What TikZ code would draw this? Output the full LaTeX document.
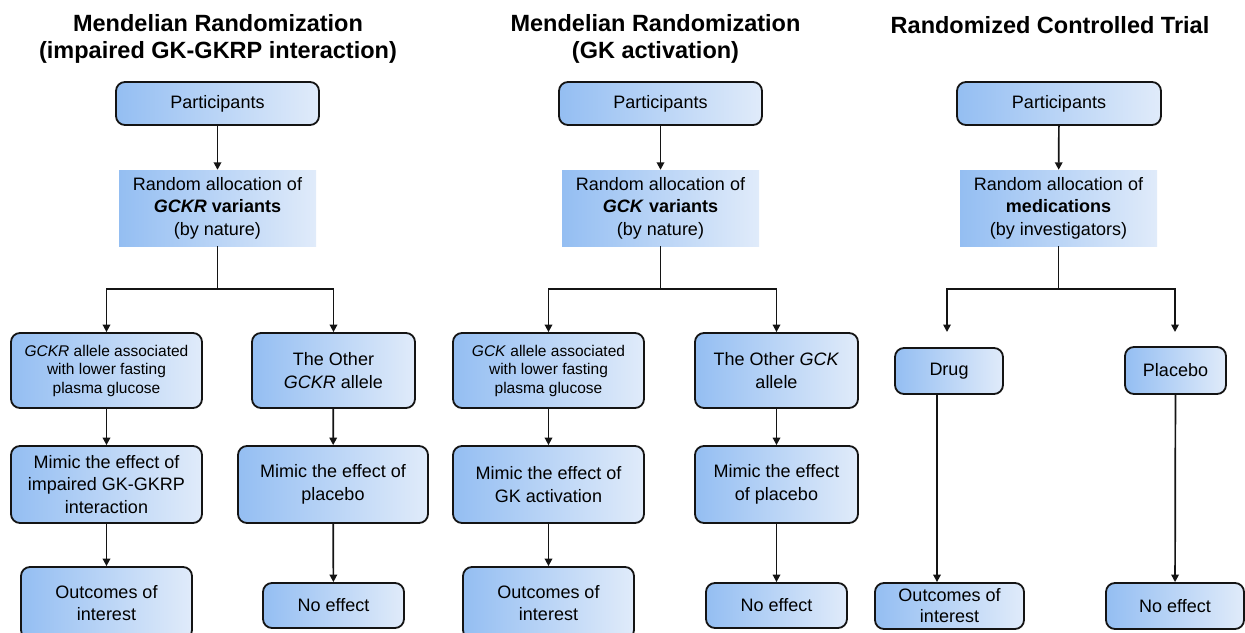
\documentclass[tikz,border=0pt]{standalone}
\usepackage{fontspec}
\setmainfont{Liberation Sans}
\usetikzlibrary{arrows.meta,calc}
\definecolor{gradL}{RGB}{148,190,242}
\definecolor{gradR}{RGB}{224,235,250}
\definecolor{lineC}{RGB}{20,20,20}
\begin{document}
\begin{tikzpicture}[x=1pt,y=-1pt,
  title/.style={align=center,font=\bfseries\fontsize{23.5}{27}\selectfont,inner sep=0pt},
  rbox/.style={draw=lineC,line width=1.8pt,rounded corners=9pt,left color=gradL,right color=gradR,
    align=center,inner sep=0pt,font=\fontsize{18}{22.5}\selectfont},
  sbox/.style={rbox,font=\fontsize{15.5}{18.5}\selectfont},
  abox/.style={draw=none,left color=gradL,right color=gradR,align=center,inner sep=0pt,
    font=\fontsize{18}{22.5}\selectfont},
  arr/.style={draw=lineC,line width=1.7pt,-{Triangle[length=7.5pt,width=7.5pt]}},
  ln/.style={draw=lineC,line width=1.7pt}]
\useasboundingbox (0,0) rectangle (1245,632);

% ---------- Column 1 ----------
\node[title] (T1) at (218,39) {Mendelian Randomization\\(impaired GK-GKRP interaction)};
\node[rbox,minimum width=203pt,minimum height=43pt] (P1) at (217.5,103.5) {Participants};
\node[abox,minimum width=197pt,minimum height=76pt] (R1) at (217.5,208) {Random allocation of\\\textbf{\textit{GCKR} variants}\\(by nature)};
\node[sbox,minimum width=191pt,minimum height=75pt] (A1) at (106.5,370.5) {\textit{GCKR} allele associated\\with lower fasting\\plasma glucose};
\node[rbox,minimum width=163pt,minimum height=75pt] (B1) at (333.5,370.5) {The Other\\\textit{GCKR} allele};
\node[rbox,minimum width=191pt,minimum height=77pt] (M1) at (106.5,484.5) {Mimic the effect of\\impaired GK-GKRP\\interaction};
\node[rbox,minimum width=190pt,minimum height=77pt] (N1) at (333,484.5) {Mimic the effect of\\placebo};
\node[rbox,minimum width=171pt,minimum height=72pt] (O1) at (106.5,603) {Outcomes of\\interest};
\node[rbox,minimum width=141pt,minimum height=45pt] (E1) at (333.5,605.5) {No effect};
\coordinate (s1) at (217.5,289);
\draw[arr] (P1) -- (R1);
\draw[ln] (R1.south) -- (s1);
\draw[arr] (s1) -| (A1.north);
\draw[arr] (s1) -| (B1.north);
\draw[arr] (A1) -- (M1);
\draw[arr] (M1) -- (O1);
\draw[arr] (B1) -- (N1);
\draw[arr] (N1) -- (E1);

% ---------- Column 2 ----------
\node[title] (T2) at (655.5,39) {Mendelian Randomization\\(GK activation)};
\node[rbox,minimum width=203pt,minimum height=43pt] (P2) at (660.5,103.5) {Participants};
\node[abox,minimum width=197pt,minimum height=76pt] (R2) at (660.5,208) {Random allocation of\\\textbf{\textit{GCK} variants}\\(by nature)};
\node[sbox,minimum width=191pt,minimum height=75pt] (A2) at (548.5,370.5) {\textit{GCK} allele associated\\with lower fasting\\plasma glucose};
\node[rbox,minimum width=163pt,minimum height=75pt] (B2) at (776.5,370.5) {The Other \textit{GCK}\\allele};
\node[rbox,minimum width=191pt,minimum height=77pt] (M2) at (548.5,484.5) {Mimic the effect of\\GK activation};
\node[rbox,minimum width=163pt,minimum height=77pt] (N2) at (776.5,484.5) {Mimic the effect\\of placebo};
\node[rbox,minimum width=171pt,minimum height=72pt] (O2) at (548.5,603) {Outcomes of\\interest};
\node[rbox,minimum width=141pt,minimum height=45pt] (E2) at (776.5,605.5) {No effect};
\coordinate (s2) at (660.5,289);
\draw[arr] (P2) -- (R2);
\draw[ln] (R2.south) -- (s2);
\draw[arr] (s2) -| (A2.north);
\draw[arr] (s2) -| (B2.north);
\draw[arr] (A2) -- (M2);
\draw[arr] (M2) -- (O2);
\draw[arr] (B2) -- (N2);
\draw[arr] (N2) -- (E2);

% ---------- Column 3 ----------
\node[title] (T3) at (1050,25.5) {Randomized Controlled Trial};
\node[rbox,minimum width=204pt,minimum height=43pt] (P3) at (1059,103.5) {Participants};
\node[abox,minimum width=197pt,minimum height=76pt] (R3) at (1058.5,208) {Random allocation of\\\textbf{medications}\\(by investigators)};
\node[rbox,minimum width=108pt,minimum height=46pt] (D3) at (949,371) {Drug};
\node[rbox,minimum width=101pt,minimum height=47pt] (PL3) at (1175.5,370.5) {Placebo};
\node[rbox,minimum width=149pt,minimum height=46pt,font=\fontsize{18}{21}\selectfont] (O3) at (949.5,606) {Outcomes of\\interest};
\node[rbox,minimum width=138pt,minimum height=46pt] (E3) at (1175,606) {No effect};
\coordinate (s3) at (1058.5,289);
\coordinate (d3a) at (947,332);
\coordinate (p3a) at (1175,332);
\draw[arr] (P3) -- (R3);
\draw[ln] (R3.south) -- (s3);
\draw[arr] (s3) -| (d3a);
\draw[arr] (s3) -| (p3a);
\draw[arr] ([xshift=-12pt]D3.south) -- ([xshift=-12.5pt]O3.north);
\draw[arr] (PL3) -- (E3);
\end{tikzpicture}
\end{document}
